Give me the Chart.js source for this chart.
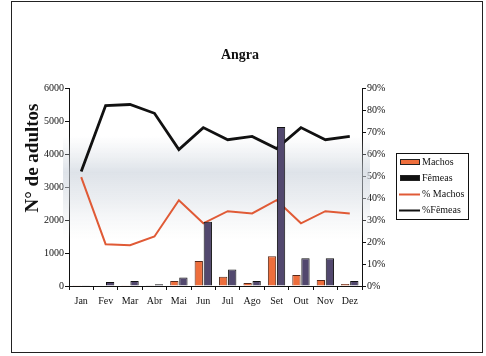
<!DOCTYPE html>
<html>
<head>
<meta charset="utf-8">
<script src="https://cdn.jsdelivr.net/npm/chart.js@4.4.1/dist/chart.umd.min.js"></script>
<style>
  html, body { margin: 0; padding: 0; background: #fff; }
  #wrap { position: relative; width: 486px; height: 356px; overflow: hidden; }
  #frame { position: absolute; left: 11px; top: 1px; width: 472px; height: 352px;
           border: 1px solid #222; box-sizing: border-box; }
  canvas { position: absolute; left: 0; top: 0; }
</style>
</head>
<body>
<div id="wrap">
  <div id="frame"></div>
  <canvas id="c" width="486" height="356"></canvas>
</div>
<script>
// Monthly adult counts and sex ratio, Angra
const months = ['Jan','Fev','Mar','Abr','Mai','Jun','Jul','Ago','Set','Out','Nov','Dez'];
const machos = [5, 15, 25, 10, 150, 760, 280, 90, 900, 330, 180, 60];
const femeas = [20, 120, 150, 50, 260, 1950, 500, 150, 4820, 840, 840, 150];
const pctMachos = [49.5, 19, 18.5, 22.5, 39, 28.5, 34, 33, 39, 28.5, 34, 33];
const pctFemeas = [52, 82, 82.5, 78.5, 62, 72, 66.5, 68, 62.5, 72, 66.5, 68];
const countTicks = [0, 1000, 2000, 3000, 4000, 5000, 6000];
const pctTicks = [0, 10, 20, 30, 40, 50, 60, 70, 80, 90];
const yTitle = 'N° de adultos';

const serif = '"Liberation Serif", "DejaVu Serif", serif';
const ORANGE = '#ee6e3c';
const PURPLE = '#52486e';
const RED_LINE = '#e05a36';

// soft grey band behind the plot
const hazePlugin = {
  id: 'haze',
  beforeDatasetsDraw(chart) {
    const { ctx, chartArea: a } = chart;
    const top = a.top + 48, h = 104;
    const g = ctx.createLinearGradient(0, top, 0, top + h);
    g.addColorStop(0, 'rgba(210,216,224,0)');
    g.addColorStop(0.35, 'rgba(200,208,218,0.6)');
    g.addColorStop(0.6, 'rgba(210,216,224,0.45)');
    g.addColorStop(1, 'rgba(225,228,232,0)');
    ctx.save();
    ctx.fillStyle = g;
    ctx.fillRect(a.left - 6, top, a.right - a.left + 14, h);
    ctx.restore();
  }
};

// rotated left-axis caption
const axisCaption = {
  id: 'axisCaption',
  afterDraw(chart) {
    const { ctx } = chart;
    ctx.save();
    ctx.translate(33, 158);
    ctx.rotate(-Math.PI / 2);
    ctx.font = 'bold 19px ' + serif;
    ctx.fillStyle = '#111';
    ctx.textAlign = 'center';
    ctx.textBaseline = 'middle';
    ctx.fillText(yTitle, 0, 0);
    ctx.restore();
  }
};

// boxed legend on the right
const boxLegend = {
  id: 'boxLegend',
  afterDraw(chart) {
    const { ctx } = chart;
    const x0 = 396, y0 = 153, w = 72, h = 66;
    ctx.save();
    ctx.strokeStyle = '#111';
    ctx.lineWidth = 1;
    ctx.strokeRect(x0 + 0.5, y0 + 0.5, w, h);
    ctx.font = '10px ' + serif;
    ctx.textBaseline = 'middle';
    const ds = chart.data.datasets;
    const rows = [162, 178, 194, 210];
    ds.forEach((d, i) => {
      const y = rows[i];
      if (d.type === 'line') {
        ctx.strokeStyle = d.borderColor;
        ctx.lineWidth = 2;
        ctx.beginPath();
        ctx.moveTo(399, y + 0.5);
        ctx.lineTo(420, y + 0.5);
        ctx.stroke();
      } else {
        ctx.fillStyle = i === 1 ? '#111' : d.backgroundColor;
        ctx.fillRect(400, y - 3, 20, 6);
        ctx.strokeStyle = '#222';
        ctx.lineWidth = 1;
        ctx.strokeRect(400.5, y - 2.5, 19, 5);
      }
      ctx.fillStyle = '#111';
      ctx.fillText(d.label, 422, y);
    });
    ctx.restore();
  }
};

new Chart(document.getElementById('c'), {
  data: {
    labels: months,
    datasets: [
      { type: 'bar', label: 'Machos', data: machos, yAxisID: 'y',
        backgroundColor: ORANGE, borderColor: '#5a2a1a', borderWidth: 1, order: 0,
        categoryPercentage: 0.74, barPercentage: 0.92 },
      { type: 'bar', label: 'Fêmeas', data: femeas, yAxisID: 'y',
        backgroundColor: PURPLE, borderColor: '#111', borderWidth: 1, order: 0,
        categoryPercentage: 0.74, barPercentage: 0.92 },
      { type: 'line', label: '% Machos', data: pctMachos, yAxisID: 'y2',
        borderColor: RED_LINE, borderWidth: 2, pointRadius: 0, tension: 0, order: 1 },
      { type: 'line', label: '%Fêmeas', data: pctFemeas, yAxisID: 'y2',
        borderColor: '#111', borderWidth: 2.8, pointRadius: 0, tension: 0, order: 1 }
    ]
  },
  options: {
    responsive: false,
    animation: false,
    layout: { padding: { left: 20, right: 26, top: 40, bottom: 0 } },
    plugins: {
      legend: { display: false },
      tooltip: { enabled: false },
      title: {
        display: true, text: 'Angra', color: '#111',
        font: { family: serif, size: 14, weight: 'bold', lineHeight: 1.2 },
        padding: { top: 7, bottom: 24.2 }
      }
    },
    scales: {
      x: {
        offset: true,
        grid: { display: true, offset: true, drawOnChartArea: false, tickLength: 4, color: '#111' },
        border: { display: true, color: '#111', width: 1 },
        ticks: { color: '#111', font: { family: serif, size: 10 }, padding: 5, maxRotation: 0, autoSkip: false },
        afterFit(s) { s.height = 70; }
      },
      y: {
        position: 'left', min: 0, max: 6000,
        afterBuildTicks(s) { s.ticks = countTicks.map(v => ({ value: v })); },
        grid: { display: true, drawOnChartArea: false, tickLength: 4, color: '#111' },
        border: { display: true, color: '#111', width: 1 },
        ticks: { color: '#111', font: { family: serif, size: 10 }, padding: 1,
                 callback: v => String(v) },
        afterFit(s) { s.width = 49; }
      },
      y2: {
        position: 'right', min: 0, max: 90,
        afterBuildTicks(s) { s.ticks = pctTicks.map(v => ({ value: v })); },
        grid: { display: true, drawOnChartArea: false, tickLength: 4, color: '#111' },
        border: { display: true, color: '#111', width: 1 },
        ticks: { color: '#111', font: { family: serif, size: 10 }, padding: 1,
                 callback: v => v + '%' },
        afterFit(s) { s.width = 98; }
      }
    }
  },
  plugins: [hazePlugin, boxLegend, axisCaption]
});
</script>
</body>
</html>
